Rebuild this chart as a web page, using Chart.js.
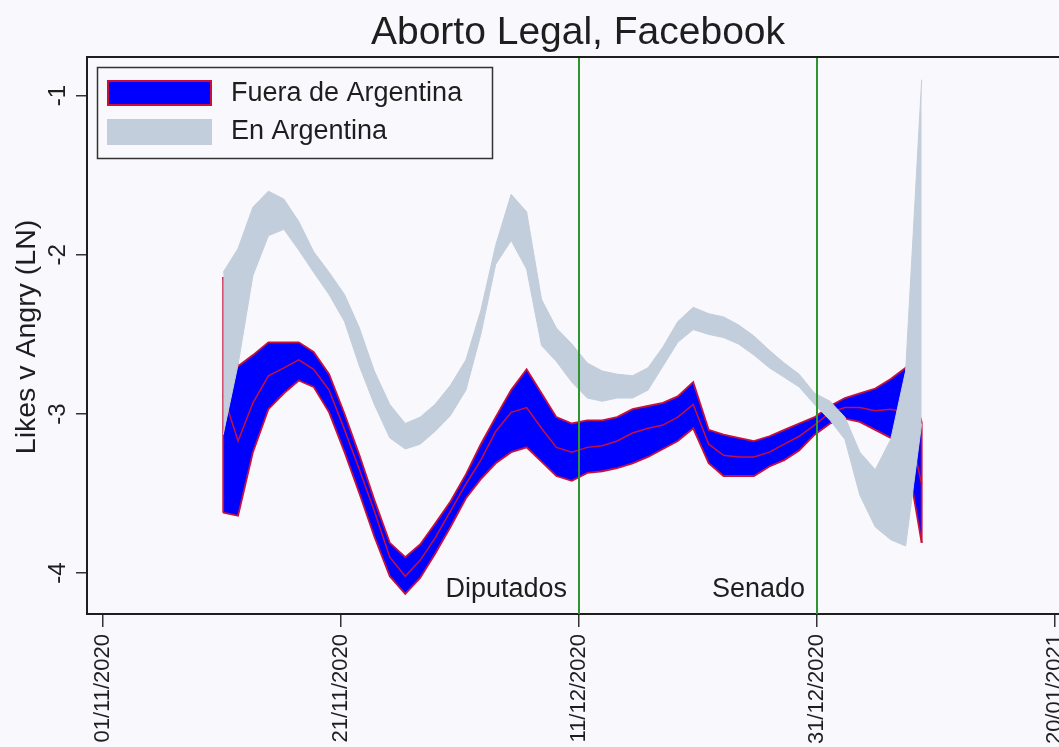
<!DOCTYPE html>
<html lang="es">
<head>
<meta charset="UTF-8" />
<title>Aborto Legal, Facebook</title>
<script src="https://cdn.jsdelivr.net/npm/chart.js"></script>
<style>
  html, body { margin: 0; padding: 0; background: #f9f8fc; }
  #chart { display: block; }
</style>
</head>
<body>
<canvas id="chart" width="1059" height="747"></canvas>
<script>
// x = days since 01/11/2020
const days = [10.1, 11.35, 12.6, 13.9, 15.2, 16.45, 17.7, 19.0, 20.3, 21.55,
  22.8, 24.1, 25.4, 26.65, 27.9, 29.2, 30.5, 31.75, 33.0, 34.3,
  35.6, 36.85, 38.1, 39.4, 40.7, 41.95, 43.2, 44.5, 45.8, 47.05,
  48.3, 49.6, 50.9, 52.15, 53.4, 54.7, 56.0, 57.25, 58.5, 59.8,
  61.1, 62.35, 63.6, 64.9, 66.2, 67.45, 68.8];

// Fuera de Argentina: upper bound, estimate, lower bound
const fueraUpper = [-2.14, -2.70, -2.63, -2.55, -2.55, -2.55, -2.61, -2.75, -3.00, -3.26,
  -3.54, -3.81, -3.90, -3.82, -3.69, -3.55, -3.38, -3.19, -3.02, -2.85,
  -2.72, -2.87, -3.02, -3.06, -3.04, -3.04, -3.02, -2.97, -2.95, -2.93,
  -2.89, -2.80, -3.10, -3.13, -3.15, -3.17, -3.14, -3.10, -3.06, -3.02,
  -2.95, -2.90, -2.87, -2.84, -2.78, -2.71, -3.05];
const fueraMid = [-2.88, -3.17, -2.93, -2.76, -2.71, -2.66, -2.72, -2.85, -3.10, -3.35,
  -3.61, -3.90, -4.02, -3.92, -3.78, -3.61, -3.44, -3.29, -3.11, -2.99,
  -2.96, -3.09, -3.21, -3.24, -3.21, -3.20, -3.17, -3.12, -3.09, -3.07,
  -3.02, -2.94, -3.19, -3.26, -3.27, -3.27, -3.24, -3.19, -3.14, -3.07,
  -2.99, -2.96, -2.96, -2.98, -2.97, -2.99, -3.44];
const fueraLower = [-3.62, -3.64, -3.24, -2.97, -2.87, -2.79, -2.83, -2.99, -3.24, -3.50,
  -3.77, -4.02, -4.13, -4.03, -3.88, -3.71, -3.53, -3.41, -3.31, -3.24,
  -3.21, -3.30, -3.39, -3.42, -3.37, -3.36, -3.34, -3.31, -3.27, -3.22,
  -3.17, -3.09, -3.31, -3.39, -3.39, -3.39, -3.33, -3.29, -3.23, -3.13,
  -3.06, -3.03, -3.05, -3.10, -3.15, -3.22, -3.81];

// En Argentina: upper and lower bound
const enUpper = [-2.11, -1.96, -1.70, -1.60, -1.65, -1.79, -1.98, -2.11, -2.25, -2.46,
  -2.73, -2.94, -3.06, -3.02, -2.94, -2.82, -2.66, -2.35, -1.94, -1.62,
  -1.73, -2.28, -2.46, -2.56, -2.68, -2.73, -2.75, -2.76, -2.71, -2.58,
  -2.42, -2.33, -2.37, -2.39, -2.44, -2.51, -2.60, -2.68, -2.75, -2.87,
  -2.92, -3.02, -3.24, -3.35, -3.16, -2.73, -0.90];
const enLower = [-3.13, -2.69, -2.13, -1.88, -1.84, -1.97, -2.11, -2.25, -2.42, -2.70,
  -2.94, -3.15, -3.22, -3.19, -3.11, -3.01, -2.85, -2.50, -2.06, -1.91,
  -2.09, -2.57, -2.67, -2.80, -2.90, -2.92, -2.90, -2.90, -2.85, -2.70,
  -2.55, -2.47, -2.50, -2.52, -2.56, -2.63, -2.71, -2.77, -2.83, -2.94,
  -3.04, -3.16, -3.51, -3.71, -3.79, -3.83, -3.06];

const tickDays = [0, 20, 40, 60, 80];
const tickLabels = ['01/11/2020', '21/11/2020', '11/12/2020', '31/12/2020', '20/01/2021'];
const yTicks = [-1, -2, -3, -4];
const eventDays = [40, 60];
const eventLabels = ['Diputados', 'Senado'];
const seriesNames = ['Fuera de Argentina', 'En Argentina'];

const FONT = '"Liberation Sans", Arial, sans-serif';
const BLUE = '#0000ff';
const RED = '#c8103c';
const GREY = '#c2cedb';
const GREEN = '#2f962f';
const INK = '#1e1e1e';

const pts = arr => days.map((d, i) => ({ x: d, y: arr[i] }));
const last = days.length - 1;

// frame, event lines, legend and titles
const decor = {
  id: 'decor',
  beforeDraw(chart) {
    const ctx = chart.ctx;
    ctx.save();
    ctx.fillStyle = '#f9f8fc';
    ctx.fillRect(0, 0, chart.width, chart.height);
    ctx.restore();
  },
  afterDatasetsDraw(chart) {
    const { ctx, chartArea: a, scales: { x } } = chart;
    ctx.save();
    // event lines
    ctx.strokeStyle = GREEN;
    ctx.lineWidth = 2;
    ctx.fillStyle = INK;
    ctx.font = '27px ' + FONT;
    ctx.textAlign = 'right';
    ctx.textBaseline = 'alphabetic';
    eventDays.forEach((d, i) => {
      const px = Math.round(x.getPixelForValue(d));
      ctx.beginPath();
      ctx.moveTo(px, a.top);
      ctx.lineTo(px, a.bottom);
      ctx.stroke();
      ctx.fillText(eventLabels[i], px - 12, 597);
    });
    // top frame line
    ctx.strokeStyle = INK;
    ctx.lineWidth = 2;
    ctx.beginPath();
    ctx.moveTo(a.left, a.top);
    ctx.lineTo(a.right, a.top);
    ctx.stroke();
    // legend
    ctx.lineWidth = 1.5;
    ctx.strokeStyle = '#333';
    ctx.strokeRect(97.5, 67.5, 395, 91);
    ctx.fillStyle = BLUE;
    ctx.fillRect(107, 80, 105, 26);
    ctx.strokeStyle = RED;
    ctx.lineWidth = 2;
    ctx.strokeRect(108, 81, 103, 24);
    ctx.fillStyle = GREY;
    ctx.fillRect(107, 119, 105, 26);
    ctx.fillStyle = INK;
    ctx.textAlign = 'left';
    ctx.textBaseline = 'middle';
    ctx.fillText(seriesNames[0], 231, 94);
    ctx.fillText(seriesNames[1], 231, 132);
    // title
    ctx.font = '39px ' + FONT;
    ctx.textAlign = 'center';
    ctx.textBaseline = 'alphabetic';
    ctx.fillText('Aborto Legal, Facebook', 578, 44);
    // y axis title
    ctx.font = '28.5px ' + FONT;
    ctx.translate(35, 337);
    ctx.rotate(-Math.PI / 2);
    ctx.fillText('Likes v Angry (LN)', 0, 0);
    ctx.restore();
  }
};

const band = (data, extra) => Object.assign({
  data, pointRadius: 0, tension: 0, borderColor: RED, borderWidth: 1.8, fill: false
}, extra);

// higher order is drawn first: blue fill, then red outlines and estimate, then grey on top
new Chart(document.getElementById('chart'), {
  type: 'line',
  data: {
    datasets: [
      band(pts(fueraUpper), { label: seriesNames[0], fill: '+1', backgroundColor: BLUE, order: 2 }),
      band(pts(fueraLower), { order: 1 }),
      band(pts(fueraMid), { borderWidth: 1.5, order: 1 }),
      band([{ x: days[0], y: fueraUpper[0] }, { x: days[0], y: fueraLower[0] }], { order: 1 }),
      band([{ x: days[last], y: fueraUpper[last] }, { x: days[last], y: fueraLower[last] }], { order: 1 }),
      band(pts(enUpper), { label: seriesNames[1], fill: '+1', backgroundColor: GREY, borderColor: GREY, borderWidth: 1, order: 0 }),
      band(pts(enLower), { borderColor: GREY, borderWidth: 1, order: 0 })
    ]
  },
  options: {
    responsive: false,
    animation: false,
    layout: { padding: { top: 57, left: 0, right: 0, bottom: 0 } },
    plugins: { legend: { display: false }, tooltip: { enabled: false } },
    scales: {
      x: {
        type: 'linear',
        min: -1.345,
        max: 80.34,
        afterBuildTicks: s => { s.ticks = tickDays.map(v => ({ value: v })); },
        afterFit: s => { s.height = 133; s.paddingLeft = 0; s.paddingRight = 0; },
        grid: { drawOnChartArea: false, tickLength: 13, color: '#333', lineWidth: 1.5 },
        border: { color: INK, width: 2 },
        ticks: {
          autoSkip: false, minRotation: 90, maxRotation: 90, padding: 7,
          color: INK, font: { family: FONT, size: 22 },
          callback: v => tickLabels[tickDays.indexOf(v)]
        }
      },
      y: {
        min: -4.257,
        max: -0.757,
        afterBuildTicks: s => { s.ticks = yTicks.map(v => ({ value: v })); },
        afterFit: s => { s.width = 87; s.paddingTop = 0; s.paddingBottom = 0; },
        grid: { drawOnChartArea: false, tickLength: 11, color: '#333', lineWidth: 1.5 },
        border: { color: INK, width: 2 },
        ticks: {
          minRotation: 90, maxRotation: 90, crossAlign: 'center', padding: 7,
          color: INK, font: { family: FONT, size: 24 },
          callback: v => String(v)
        }
      }
    }
  },
  plugins: [decor]
});
</script>
</body>
</html>
